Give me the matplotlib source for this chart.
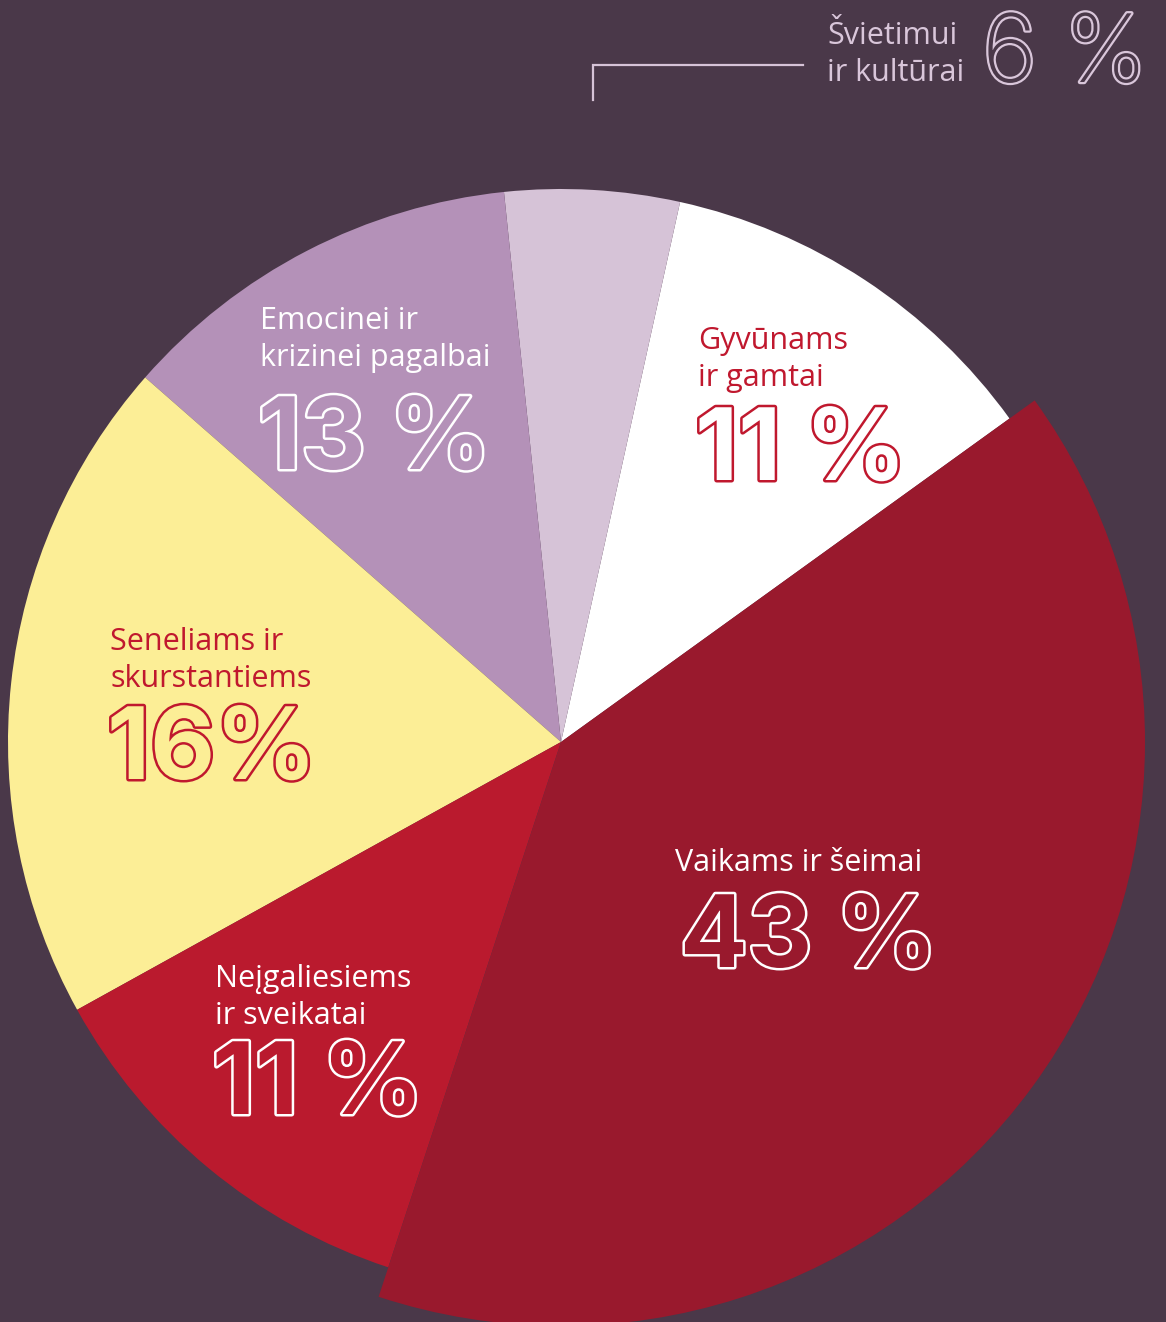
import matplotlib
matplotlib.use("Agg")
from matplotlib import pyplot as plt
import matplotlib.patheffects as pe

# slice order: counter-clockwise starting from the right edge of the white slice
categories = ['Gyvūnams\nir gamtai', 'Švietimui\nir kultūrai', 'Emocinei ir\nkrizinei pagalbai',
              'Seneliams ir\nskurstantiems', 'Neįgaliesiems\nir sveikatai', 'Vaikams ir šeimai']
pct_labels = ['11 %', '6 %', '13 %', '16%', '11 %', '43 %']
# shares as the slices are drawn in the picture
slice_shares = [11.6, 5.1, 11.9, 19.5, 11.9, 40.0]

BG = '#4a3849'
SLICE_COLORS = ['#ffffff', '#d6c3d7', '#b491b8', '#fcee96', '#ba1a2e', '#99192d']
LABEL_COLORS = ['#c0182e', '#d9c6da', '#ffffff', '#c0182e', '#ffffff', '#ffffff']
W, H = 1166, 1322
LABEL_FONT = ['Open Sans', 'DejaVu Sans']
NUM_FONT = ['Inter', 'DejaVu Sans']

# label anchors in picture pixels (left, baseline of last line) and the big number baseline
label_pos = [(698, 386), (827, 81), (260, 366), (110, 687), (215, 1024), (675, 871)]
num_pos = [(695, 480), (982, 82), (258, 469), (107, 779), (212, 1114), (680, 967)]


def py(y):
    return H - y


fig = plt.figure(figsize=(W / 100, H / 100), dpi=100, facecolor=BG)
ax = fig.add_axes([0, 0, 1, 1])
ax.set_facecolor(BG)

wedges, _ = ax.pie(slice_shares, colors=SLICE_COLORS, startangle=35.8, counterclock=True,
                   center=(561, py(742)), radius=553, frame=True,
                   wedgeprops=dict(linewidth=0))
# the largest slice sticks out beyond the rest
wedges[-1].set_radius(584)

ax.set_xlim(0, W)
ax.set_ylim(0, H)
ax.set_aspect('equal')
ax.axis('off')

for i, (cat, pct) in enumerate(zip(categories, pct_labels)):
    lx, ly = label_pos[i]
    nx, ny = num_pos[i]
    fill = BG if i == 1 else SLICE_COLORS[i]
    ax.text(lx, py(ly), cat, color=LABEL_COLORS[i], fontsize=22, family=LABEL_FONT,
            ha='left', va='baseline', linespacing=1.3)
    if i == 1:
        t = ax.text(nx, py(ny), pct, color=fill, fontsize=68, family=NUM_FONT,
                    weight='light', ha='left', va='baseline')
        t.set_path_effects([pe.withStroke(linewidth=3.2, foreground=LABEL_COLORS[i])])
    else:
        t = ax.text(nx, py(ny), pct, color=fill, fontsize=72, family=NUM_FONT,
                    weight='bold', ha='left', va='baseline')
        t.set_path_effects([pe.withStroke(linewidth=3.6, foreground=LABEL_COLORS[i])])

# leader line for the small slice
ax.plot([803, 593, 593], [py(65), py(65), py(100)], color='#d6c3d7', lw=1.6,
        solid_joinstyle='miter')

fig.savefig('out.png', dpi=100, facecolor=BG)
